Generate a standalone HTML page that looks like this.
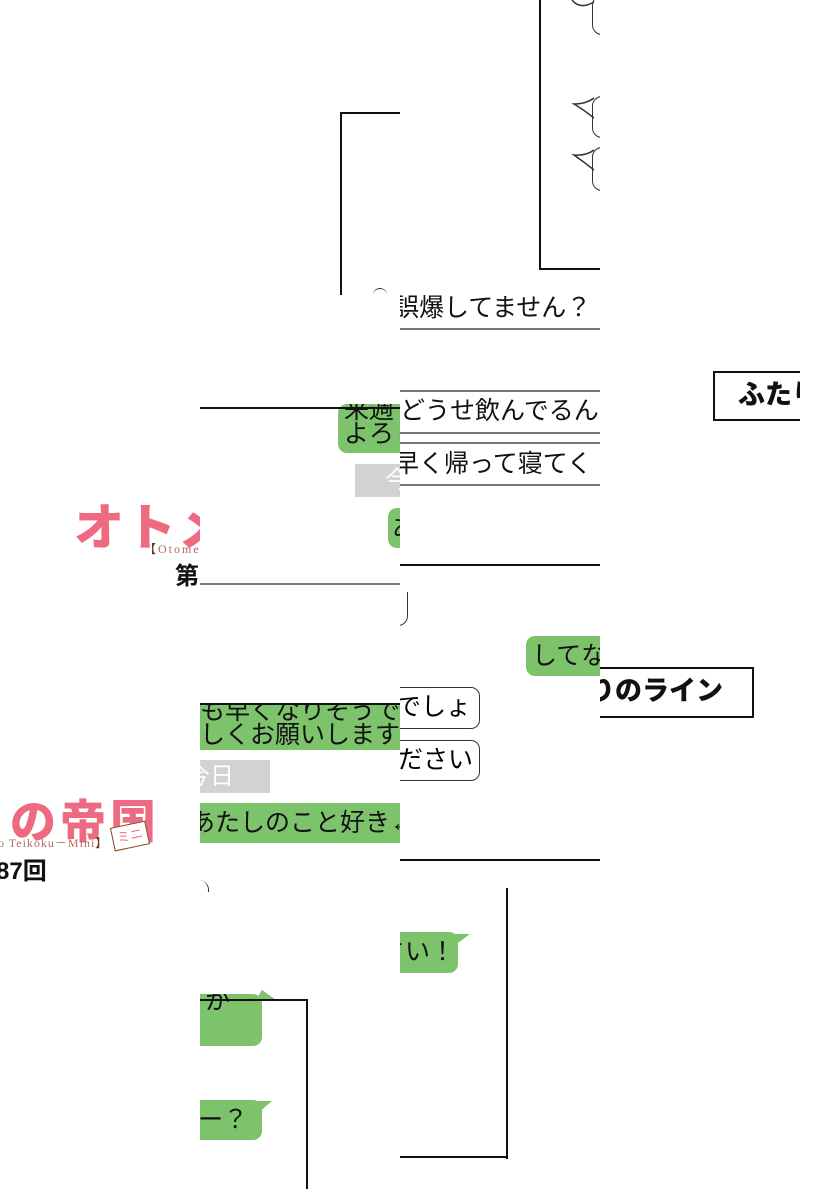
<!DOCTYPE html>
<html><head><meta charset="utf-8"><style>
html,body{margin:0;padding:0;background:#fff;}
body{width:822px;height:1200px;position:relative;overflow:hidden;font-family:"Liberation Sans","Noto Sans CJK JP",sans-serif;}
.col{position:absolute;top:0;height:1200px;overflow:hidden;}
.a{position:absolute;}
.bk{background:#111;}
.gl{background:#777;}
.gr{position:absolute;background:#7dc36b;border-radius:9px;color:#111;font-size:25px;line-height:26px;white-space:nowrap;overflow:hidden;}
.t{position:absolute;font-size:25px;line-height:28px;white-space:nowrap;color:#111;}
.gray{position:absolute;background:#d2d2d2;color:#fff;font-size:24px;line-height:33px;white-space:nowrap;}
.wb{position:absolute;border:1.5px solid #333;border-radius:9px;background:#fff;font-size:25px;line-height:38px;white-space:nowrap;}
.logo{position:absolute;color:#ee6a80;font-weight:900;white-space:nowrap;}
</style></head><body>

<div class="col" style="left:0;width:200px;">
  <div class="logo" style="left:74px;top:488px;font-size:50px;letter-spacing:2px;">オトメ</div>
  <div class="a" style="left:144px;top:540px;font-family:'Liberation Serif',serif;font-size:12px;color:#b06a60;letter-spacing:2px;white-space:nowrap;"><span style="color:#6b3a10">【</span>Otome No</div>
  <div class="a" style="left:175px;top:556px;font-size:24px;font-weight:bold;color:#111;">第</div>
  <div class="a gl" style="left:200px;top:583px;width:10px;height:2px;"></div>

  <div class="logo" style="left:-40px;top:786px;font-size:46px;letter-spacing:4px;">ミの帝国</div>
  <div class="a" style="left:112px;top:824px;width:34px;height:22px;border:1.5px solid #7a4a20;background:#fff;transform:rotate(-12deg);color:#ee6a80;font-size:13px;line-height:22px;text-align:center;">ミニ</div>
  <div class="a" style="left:-2px;top:834px;font-family:'Liberation Serif',serif;font-size:12px;color:#b06a60;letter-spacing:1px;white-space:nowrap;">o Teikoku－Mini<span style="color:#6b3a10">】</span></div>
  <div class="a" style="left:-4px;top:851px;font-size:24px;font-weight:bold;color:#111;">87回</div>
</div>

<div class="col" style="left:200px;width:200px;">
  <div class="a bk" style="left:140px;top:112px;width:2px;height:183px;"></div>
  <div class="a bk" style="left:140px;top:112px;width:60px;height:2px;"></div>
  <div class="a" style="left:173px;top:288px;width:14px;height:10px;border-top:1.5px solid #333;border-radius:10px 10px 0 0;"></div>

  <div class="gr" style="left:138px;top:404px;width:80px;height:49px;padding-left:6px;line-height:24px;"><div style="margin-top:-6px">来週<br>よろし</div></div>
  <div class="a bk" style="left:0;top:407px;width:200px;height:2px;"></div>
  <div class="gray" style="left:155px;top:464px;width:60px;height:33px;padding-left:30px;">今</div>
  <div class="gr" style="left:188px;top:508px;width:40px;height:40px;padding-left:4px;line-height:40px;">あ</div>
  <div class="a gl" style="left:0;top:583px;width:200px;height:2px;"></div>

  <div class="gr" style="left:-10px;top:703px;width:230px;height:47px;border-radius:0;line-height:24px;padding-left:10px;"><div style="margin-top:-4px">も早くなりそうで<br>しくお願いします</div></div>
  <div class="a bk" style="left:0;top:703px;width:200px;height:2px;"></div>
  <div class="gray" style="left:-14px;top:760px;width:84px;">今日</div>
  <div class="gr" style="left:-10px;top:803px;width:230px;height:40px;border-radius:0;line-height:40px;">あたしのこと好き←</div>
  <div class="a" style="left:-4px;top:880px;width:12px;height:12px;border-right:1.5px solid #333;border-radius:0 10px 0 0;"></div>

  <div class="gr" style="left:-20px;top:994px;width:82px;height:52px;line-height:22px;padding-left:0;"><div style="margin-top:-4px">すか<br>。</div></div>
  <div class="a" style="left:56px;top:990px;width:0;height:0;border-left:6px solid transparent;border-right:14px solid transparent;border-bottom:10px solid #7dc36b;"></div>
  <div class="a bk" style="left:0;top:999px;width:108px;height:2px;"></div>
  <div class="a bk" style="left:106px;top:999px;width:2px;height:190px;"></div>
  <div class="gr" style="left:-20px;top:1100px;width:82px;height:40px;line-height:40px;text-align:right;"><span style="padding-right:14px">ー？</span></div>
  <div class="a" style="left:58px;top:1101px;width:0;height:0;border-top:12px solid #7dc36b;border-right:14px solid transparent;"></div>
</div>

<div class="col" style="left:400px;width:200px;">
  <div class="a bk" style="left:139px;top:0;width:2px;height:270px;"></div>
  <div class="a bk" style="left:139px;top:268px;width:61px;height:2px;"></div>
  <div class="a" style="left:192px;top:-5px;width:20px;height:38px;border:1.5px solid #333;border-radius:10px;"></div>
  <div class="a" style="left:192px;top:96px;width:20px;height:40px;border:1.5px solid #333;border-radius:10px;"></div>
  <div class="a" style="left:192px;top:147px;width:20px;height:42px;border:1.5px solid #333;border-radius:10px;"></div>
  <svg class="a" style="left:170px;top:0" width="30" height="200">
    <path d="M24 2 Q10 10 2 0" fill="none" stroke="#333" stroke-width="1.5"/>
    <path d="M24 98 Q16 104 4 104 Q14 110 24 118" fill="none" stroke="#333" stroke-width="1.5"/>
    <path d="M24 150 Q16 156 4 155 Q14 162 24 170" fill="none" stroke="#333" stroke-width="1.5"/>
  </svg>

  <div class="t" style="left:-6px;top:294px;">誤爆してません？</div>
  <div class="a gl" style="left:0;top:328px;width:200px;height:1.5px;"></div>
  <div class="a gl" style="left:0;top:390px;width:200px;height:1.5px;"></div>
  <div class="t" style="left:0;top:397px;">どうせ飲んでるん</div>
  <div class="a gl" style="left:0;top:432px;width:200px;height:1.5px;"></div>
  <div class="a gl" style="left:0;top:442px;width:200px;height:1.5px;"></div>
  <div class="t" style="left:-6px;top:450px;">早く帰って寝てく</div>
  <div class="a gl" style="left:0;top:484px;width:200px;height:1.5px;"></div>
  <div class="a bk" style="left:0;top:564px;width:200px;height:2px;"></div>
  <div class="a" style="left:-10px;top:592px;width:17px;height:33px;border:1.5px solid #333;border-left:none;border-top:none;border-radius:0 0 10px 0;"></div>

  <div class="gr" style="left:126px;top:636px;width:100px;height:40px;line-height:40px;padding-left:6px;">してな</div>
  <div class="wb" style="left:-12px;top:687px;width:90px;height:40px;text-align:right;"><span style="padding-right:8px">でしょ</span></div>
  <div class="wb" style="left:-12px;top:740px;width:90px;height:39px;text-align:right;"><span style="padding-right:6px">ださい</span></div>
  <div class="a bk" style="left:0;top:859px;width:200px;height:2px;"></div>

  <div class="gr" style="left:-20px;top:932px;width:78px;height:41px;line-height:41px;text-align:right;"><span style="padding-right:12px">さい！</span></div>
  <div class="a" style="left:54px;top:934px;width:0;height:0;border-top:12px solid #7dc36b;border-right:16px solid transparent;"></div>
  <div class="a bk" style="left:106px;top:888px;width:2px;height:271px;"></div>
  <div class="a bk" style="left:0;top:1156px;width:108px;height:2px;"></div>
</div>

<div class="col" style="left:600px;width:222px;">
  <div class="a" style="left:113px;top:371px;width:140px;height:46px;border:2px solid #111;"></div>
  <div class="a" style="left:138px;top:377px;font-size:27px;font-weight:900;color:#111;line-height:36px;white-space:nowrap;">ふたり</div>
  <div class="a" style="left:200px;top:360px;width:22px;height:70px;background:#fff;"></div>

  <div class="a" style="left:-20px;top:667px;width:170px;height:47px;border:2px solid #111;"></div>
  <div class="a" style="left:-12px;top:673px;font-size:27px;font-weight:900;color:#111;line-height:36px;white-space:nowrap;">りのライン</div>
</div>

</body></html>
